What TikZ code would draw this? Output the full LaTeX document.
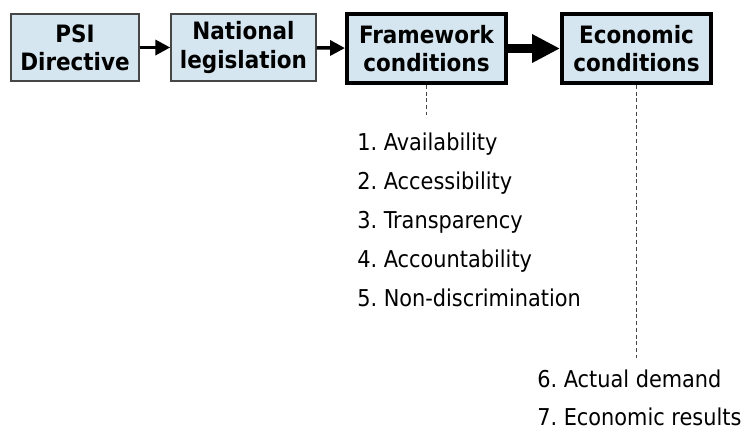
\documentclass[tikz,border=0pt]{standalone}
\usepackage{fontspec}
\setmainfont{DejaVu Sans Condensed}
\usetikzlibrary{arrows.meta}
\definecolor{boxfill}{RGB}{213,230,240}
\definecolor{thinedge}{RGB}{70,70,70}
\frenchspacing
\tikzset{
  box/.style={fill=boxfill,draw=thinedge,line width=1pt,align=center,
    inner sep=0pt,font=\fontsize{17}{20}\selectfont\bfseries},
  bigbox/.style={box,draw=black,line width=2.8pt},
  flow/.style={line width=2.5pt,-{Triangle[length=10.6pt,width=10.6pt]}},
  bigflow/.style={line width=5.7pt,-{Triangle[length=19.8pt,width=19pt]}},
  link/.style={thinedge,line width=0.7pt,dash pattern=on 2.8pt off 2pt},
  item/.style={anchor=base west,inner sep=0pt,font=\fontsize{16.5}{19}\selectfont}
}
\begin{document}
\begin{tikzpicture}[x=0.025cm,y=-0.025cm]
    \useasboundingbox (0,0) rectangle (744,430);

    \node[box,minimum width=3.2cm,minimum height=1.675cm]
      (psi) at (75,47.5) {PSI\\Directive};
    \node[box,minimum width=3.625cm,minimum height=1.675cm]
      (natl) at (243.5,47.5) {National\\legislation};
    \node[bigbox,minimum width=3.975cm,minimum height=1.725cm]
      (frame) at (426.5,48.5) {Framework\\conditions};
    \node[bigbox,minimum width=3.725cm,minimum height=1.725cm]
      (econ) at (636.5,48.5) {Economic\\conditions};

    \draw[flow] (psi) -- (natl);
    \draw[flow] (natl) -- (frame);
    \draw[bigflow] (frame) -- (econ);

    % dashed leaders down to the two lists
    \coordinate (frameend) at (frame.south |- 0,115);
    \coordinate (econend)  at (econ.south |- 0,358);
    \draw[link] (frame.south) -- (frameend);
    \draw[link] (econ.south) -- (econend);

    \foreach \n/\txt [count=\i] in {1/Availability,2/Accessibility,3/Transparency,
        4/Accountability,5/Non-discrimination}{
      \node[item] (item\n) at (357,150+39*\i-39) {\n. \txt};
    }
    \node[item] (item6) at (537,387) {6. Actual demand};
    \node[item] (item7) at (537,425) {7. Economic results};
  \end{tikzpicture}
\end{document}
